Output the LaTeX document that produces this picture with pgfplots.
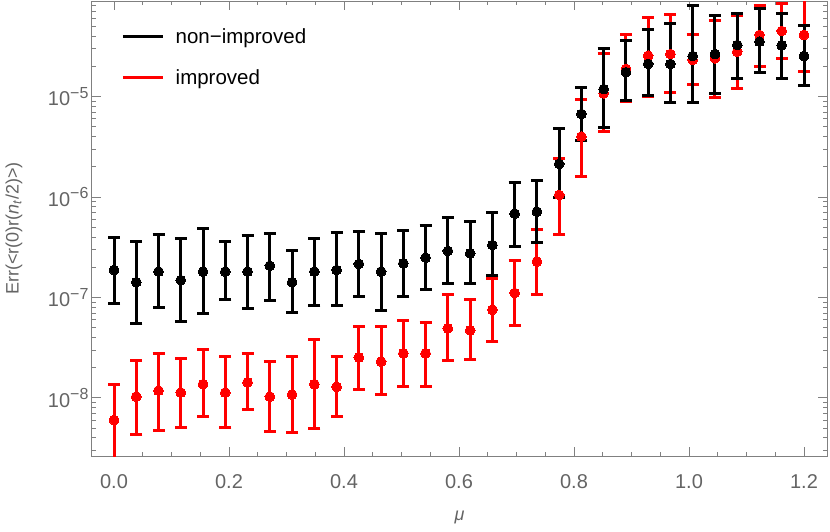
\documentclass[border=0pt]{standalone}
\usepackage{fontspec}
\setmainfont{Liberation Sans}
\usepackage{pgfplots}
\pgfplotsset{compat=1.18}
\usepackage{pgfplotstable}

\definecolor{framegray}{RGB}{128,128,128}
\definecolor{labelgray}{RGB}{100,100,100}

% x, value, lower end, upper end of the error bar
\pgfplotstableread{
x      y        lo       hi
0.0000 1.88e-7  8.75e-8  3.98e-7
0.0387 1.42e-7  5.53e-8  3.63e-7
0.0774 1.81e-7  7.98e-8  4.20e-7
0.1161 1.49e-7  5.74e-8  3.86e-7
0.1548 1.81e-7  6.97e-8  4.92e-7
0.1935 1.81e-7  9.60e-8  3.63e-7
0.2323 1.81e-7  7.80e-8  4.13e-7
0.2710 2.07e-7  9.44e-8  4.35e-7
0.3097 1.42e-7  7.10e-8  2.92e-7
0.3484 1.81e-7  8.28e-8  3.83e-7
0.3871 1.88e-7  8.41e-8  4.46e-7
0.4258 2.16e-7  1.035e-7 4.52e-7
0.4645 1.81e-7  7.40e-8  4.38e-7
0.5032 2.19e-7  1.02e-7  4.63e-7
0.5419 2.49e-7  1.21e-7  5.27e-7
0.5806 2.91e-7  1.38e-7  6.30e-7
0.6194 2.75e-7  1.38e-7  5.69e-7
0.6581 3.33e-7  1.64e-7  7.06e-7
0.6968 6.84e-7  3.21e-7  1.40e-6
0.7355 7.16e-7  3.52e-7  1.46e-6
0.7742 2.14e-6  9.96e-7  4.77e-6
0.8129 6.73e-6  3.65e-6  1.24e-5
0.8516 1.19e-5  4.91e-6  2.99e-5
0.8903 1.75e-5  9.06e-6  3.59e-5
0.9290 2.12e-5  1.02e-5  4.69e-5
0.9677 2.12e-5  8.71e-6  5.38e-5
1.0065 2.54e-5  8.71e-6  8.00e-5
1.0452 2.66e-5  1.08e-5  6.41e-5
1.0839 3.27e-5  1.52e-5  6.67e-5
1.1226 3.53e-5  1.73e-5  7.52e-5
1.1613 3.25e-5  1.50e-5  6.67e-5
1.2000 2.54e-5  1.28e-5  5.09e-5
}\nonimproved

\pgfplotstableread{
x      y        lo       hi
0.0000 6.03e-9  2.50e-9  1.37e-8
0.0387 1.03e-8  4.36e-9  2.35e-8
0.0774 1.18e-8  4.78e-9  2.78e-8
0.1161 1.13e-8  5.09e-9  2.48e-8
0.1548 1.37e-8  6.50e-9  3.02e-8
0.1935 1.13e-8  5.09e-9  2.60e-8
0.2323 1.43e-8  7.75e-9  2.78e-8
0.2710 1.03e-8  4.60e-9  2.28e-8
0.3097 1.08e-8  4.57e-9  2.58e-8
0.3484 1.37e-8  4.98e-9  3.78e-8
0.3871 1.29e-8  6.50e-9  2.60e-8
0.4258 2.53e-8  1.20e-8  5.16e-8
0.4645 2.30e-8  1.07e-8  5.10e-8
0.5032 2.78e-8  1.29e-8  5.87e-8
0.5419 2.78e-8  1.31e-8  5.70e-8
0.5806 4.93e-8  2.35e-8  1.06e-7
0.6194 4.71e-8  2.42e-8  9.60e-8
0.6581 7.55e-8  3.61e-8  1.55e-7
0.6968 1.11e-7  5.28e-8  2.36e-7
0.7355 2.28e-7  1.06e-7  4.77e-7
0.7742 1.05e-6  4.26e-7  2.43e-6
0.8129 4.00e-6  1.60e-6  9.48e-6
0.8516 1.08e-5  4.48e-6  2.70e-5
0.8903 1.89e-5  8.92e-6  4.19e-5
0.9290 2.56e-5  1.00e-5  6.18e-5
0.9677 2.66e-5  1.10e-5  6.52e-5
1.0065 2.32e-5  1.33e-5  4.19e-5
1.0452 2.41e-5  9.86e-6  5.71e-5
1.0839 2.81e-5  1.21e-5  6.41e-5
1.1226 4.12e-5  2.02e-5  8.05e-5
1.1613 4.51e-5  2.38e-5  8.40e-5
1.2000 4.12e-5  1.80e-5  1.00e-4
}\improved

\pgfplotsset{
    errplot/.style={
        only marks, mark=*, mark size=4.9pt, color=#1,
        mark options={fill=#1, draw=#1, line width=0pt},
        error bars/.cd, y dir=both, y explicit,
        error bar style={line width=3pt, #1},
        error mark options={rotate=90, line width=3pt, mark size=6pt, #1},
        /pgfplots/.cd,
    },
}

\begin{document}
\begin{tikzpicture}
    \begin{axis}[
        scale only axis,
        width=735pt,
        height=455pt,
        ymode=log,
        xmin=-0.0383, xmax=1.24,
        ymin=2.64e-9, ymax=8.97e-5,
        axis line style={framegray, line width=1pt},
        every tick/.style={framegray, line width=1pt},
        major tick length=9pt,
        minor tick length=4.5pt,
        tick pos=both,
        xtick={0,0.2,0.4,0.6,0.8,1.0,1.2},
        minor x tick num=3,
        xticklabel style={yshift=-15pt, /pgf/number format/.cd, fixed, fixed zerofill, precision=1},
        /pgf/number format/assume math mode=true,
        yticklabel={\pgfmathtruncatemacro\ex{-round(\tick/ln(10))}10\raisebox{0.38em}{\fontsize{16}{16}\selectfont −\ex}},
        ticklabel style={font=\fontsize{20}{24}\selectfont, text=labelgray},
        xlabel={\textit{μ}},
        ylabel={Err(<r(0)r(\textit{n}\textsubscript{\textit{t}}/2)>)},
        label style={font=\fontsize{18}{22}\selectfont, text=labelgray},
        xlabel style={at={(rel axis cs:0.5,-0.134)}, anchor=center},
        ylabel style={at={(rel axis cs:-0.106,0.5)}, anchor=center},
        legend style={draw=none, fill=none, at={(rel axis cs:0,1)}, anchor=north west,
            xshift=26pt, yshift=-23pt, row sep=21pt, column sep=9pt,
            font=\fontsize{20.5}{24}\selectfont, text=black},
        legend cell align=left,
        legend image code/.code={\draw[#1, line width=3.5pt] (0pt,0pt) -- (40pt,0pt);},
    ]
        \addlegendimage{black}
        \addlegendentry{non−improved}
        \addlegendimage{red}
        \addlegendentry{improved}

        \addplot[forget plot, errplot=red] table[x=x, y=y,
            y error plus expr=\thisrow{hi}-\thisrow{y},
            y error minus expr=\thisrow{y}-\thisrow{lo}] {\improved};
        \addplot[forget plot, errplot=black] table[x=x, y=y,
            y error plus expr=\thisrow{hi}-\thisrow{y},
            y error minus expr=\thisrow{y}-\thisrow{lo}] {\nonimproved};

        \coordinate (ll) at (rel axis cs:0,0);
        \coordinate (ur) at (rel axis cs:1,1);
    \end{axis}
    \pgfresetboundingbox
    \path ([xshift=-92pt,yshift=-76pt]ll) rectangle ([xshift=3pt,yshift=1pt]ur);
\end{tikzpicture}
\end{document}
